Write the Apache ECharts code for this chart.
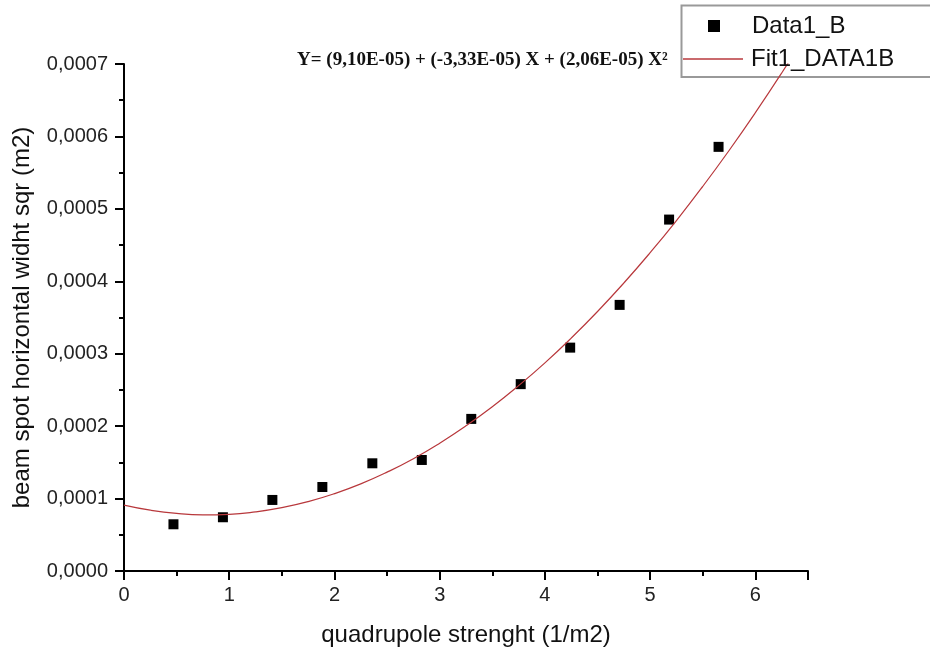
<!DOCTYPE html>
<html>
<head>
<meta charset="utf-8">
<script src="https://cdn.jsdelivr.net/npm/echarts@6/dist/echarts.min.js"></script>
<style>
  html, body { margin: 0; padding: 0; background: #fff; }
  #chart { width: 930px; height: 650px; }
</style>
</head>
<body>
<div id="chart"></div>
<script>
  // measured points (quadrupole strength vs beam spot width^2)
  var dataX = [0.47, 0.94, 1.41, 1.885, 2.36, 2.83, 3.30, 3.77, 4.24, 4.71, 5.18, 5.65]
  var dataY = [0.0000645, 0.0000742, 0.0000981, 0.000116, 0.0001487, 0.0001533,
               0.000210, 0.000258, 0.0003084, 0.0003674, 0.0004852, 0.0005856]
  // fit curve, every 0.25
  var fitX = [0, 0.25, 0.5, 0.75, 1, 1.25, 1.5, 1.75, 2, 2.25, 2.5, 2.75, 3, 3.25,
              3.5, 3.75, 4, 4.25, 4.5, 4.75, 5, 5.25, 5.5, 5.75, 6, 6.25, 6.5]
  var fitY = [0.0000910, 0.0000840, 0.0000795, 0.0000776, 0.0000783, 0.0000816, 0.0000874,
              0.0000958, 0.0001068, 0.0001203, 0.0001365, 0.0001551, 0.0001765, 0.0002004,
              0.0002268, 0.0002559, 0.0002874, 0.0003216, 0.0003583, 0.0003976, 0.0004395,
              0.0004839, 0.0005310, 0.0005806, 0.0006328, 0.0006876, 0.0007450]
  var equation = 'Y= (9,10E-05) + (-3,33E-05) X + (2,06E-05) X\u00B2'

  var pts = dataX.map(function (x, i) { return [x, dataY[i]] })
  var fit = fitX.map(function (x, i) { return [x, fitY[i]] })

  var font = '"Liberation Sans", Arial, sans-serif'
  var fitColor = '#b8383c'
  var chart = echarts.init(document.getElementById('chart'))
  chart.setOption({
    backgroundColor: '#fff',
    animation: false,
    title: {
      text: equation,
      left: 297, top: 51, padding: 0,
      textStyle: { fontFamily: '"Liberation Serif", "Times New Roman", serif', fontWeight: 'bold', fontSize: 19, color: '#111' }
    },
    graphic: [{
      type: 'rect', z: 3,
      shape: { x: 681.5, y: 5.5, width: 260, height: 71.5 },
      style: { fill: '#fff', stroke: '#999', lineWidth: 2 }
    }],
    legend: [
      {
        data: ['Data1_B'], left: 708, top: 14, padding: 0,
        itemWidth: 12, itemHeight: 12, z: 5,
        textStyle: { fontFamily: font, fontSize: 24, color: '#111', padding: [0, 0, 0, 27] }
      },
      {
        data: [{ name: 'Fit1_DATA1B', icon: 'rect' }], left: 683, top: 47, padding: 0,
        itemWidth: 60, itemHeight: 1.5, z: 5,
        textStyle: { fontFamily: font, fontSize: 24, color: '#111', padding: [0, 0, 0, 3] }
      }
    ],
    grid: { left: 124, right: 122, top: 64, bottom: 79, outerBoundsMode: 'none', containLabel: false },
    xAxis: {
      type: 'value', min: 0, max: 6.5, interval: 1,
      name: 'quadrupole strenght (1/m2)', nameLocation: 'middle', nameGap: 52,
      nameTextStyle: { fontFamily: font, fontSize: 24, color: '#111' },
      axisLine: { show: true, onZero: false, lineStyle: { color: '#000', width: 2 } },
      axisTick: { show: true, inside: false, length: 9, lineStyle: { color: '#000', width: 2 } },
      minorTick: { show: true, splitNumber: 2, length: 5, lineStyle: { color: '#000', width: 2 } },
      splitLine: { show: false },
      axisLabel: {
        margin: 14, fontFamily: font, fontSize: 20, color: '#222',
        formatter: function (v) { return v % 1 === 0 ? String(v) : '' }
      }
    },
    yAxis: {
      type: 'value', min: 0, max: 0.0007, interval: 0.0001,
      name: 'beam spot horizontal widht sqr (m2)', nameLocation: 'middle', nameGap: 90,
      nameTextStyle: { fontFamily: font, fontSize: 24, color: '#111' },
      axisLine: { show: true, lineStyle: { color: '#000', width: 2 } },
      axisTick: { show: true, inside: false, length: 9, lineStyle: { color: '#000', width: 2 } },
      minorTick: { show: true, splitNumber: 2, length: 5, lineStyle: { color: '#000', width: 2 } },
      splitLine: { show: false },
      axisLabel: {
        margin: 16, fontFamily: font, fontSize: 20, color: '#222',
        formatter: function (v) { return v.toFixed(4).replace('.', ',') }
      }
    },
    series: [
      {
        name: 'Fit1_DATA1B', type: 'line', data: fit, smooth: true,
        showSymbol: false, symbol: 'none', clip: true,
        lineStyle: { color: fitColor, width: 1.2 },
        itemStyle: { color: fitColor }
      },
      {
        name: 'Data1_B', type: 'scatter', data: pts,
        symbol: 'rect', symbolSize: 10,
        itemStyle: { color: '#000', opacity: 1 }
      }
    ]
  })
</script>
</body>
</html>
